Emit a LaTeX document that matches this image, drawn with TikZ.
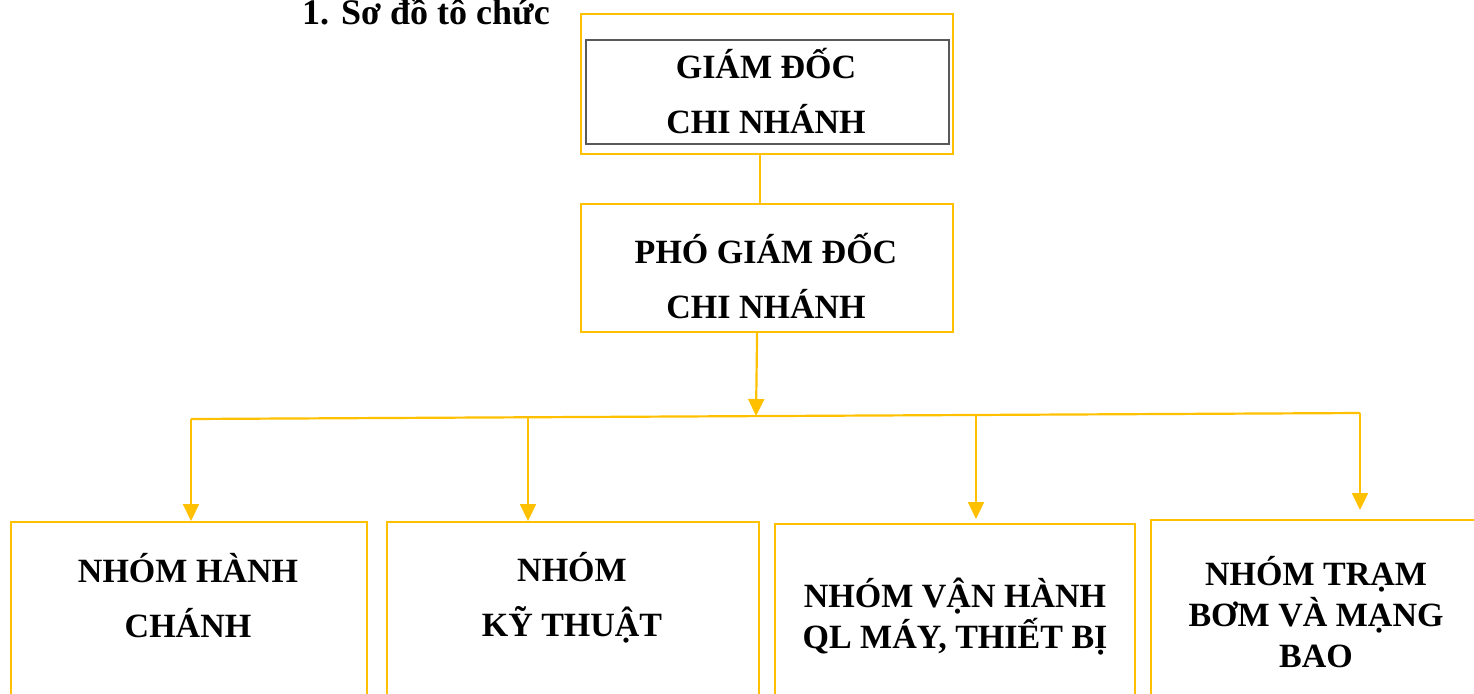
\documentclass[tikz,border=0pt]{standalone}
\usepackage{fontspec}
\setmainfont{Liberation Serif}
\usetikzlibrary{positioning, arrows.meta}
\definecolor{gold}{HTML}{FFC000}
\definecolor{frame}{HTML}{595959}

\begin{document}
\begin{tikzpicture}[x=1pt, y=-1pt,
    box/.style = {draw=gold, line width=2.2pt, rectangle, inner sep=0pt, anchor=north west},
    txt/.style = {font=\fontsize{34}{55}\selectfont\bfseries, align=center, inner sep=0pt, anchor=base},
    tight/.style = {font=\fontsize{34}{41}\selectfont\bfseries},
    link/.style = {draw=gold, line width=2.2pt},
    arr/.style = {link, -{Triangle[width=16pt, length=17pt]}}]
    \useasboundingbox (0,0) rectangle (1474,693);
    \clip (0,0) rectangle (1474,693);

    \node[font=\fontsize{36}{42}\selectfont\bfseries, inner sep=0pt, anchor=base west] (title) at (302,25) {1. Sơ đồ tô chức};

    \node[box, minimum width=372pt, minimum height=140pt] (gd) at (580,13) {};
    \node[draw=frame, line width=2pt, inner sep=0pt, anchor=north west, minimum width=363pt, minimum height=104pt] (gdin) at (585,39) {};
    \node[txt] (gdtext) at (766,133) {GIÁM ĐỐC\\CHI NHÁNH};
    \node[box, minimum width=372pt, minimum height=128pt] (pgd) at (580,203) {};
    \node[txt] (pgdtext) at (766,318) {PHÓ GIÁM ĐỐC\\CHI NHÁNH};

    \node[box, minimum width=356pt, minimum height=200pt] (hc) at (10,521) {};
    \node[box, minimum width=372pt, minimum height=200pt] (kt) at (386,521) {};
    \node[box, minimum width=360pt, minimum height=200pt] (vh) at (774,523) {};
    \node[box, minimum width=340pt, minimum height=200pt] (tb) at (1150,519) {};
    \node[txt] (hctext) at (188,637) {NHÓM HÀNH\\CHÁNH};
    \node[txt] (kttext) at (572,636) {NHÓM\\KỸ THUẬT};
    \node[txt, tight] (vhtext) at (955,648) {NHÓM VẬN HÀNH\\QL MÁY, THIẾT BỊ};
    \node[txt, tight] (tbtext) at (1316,667) {NHÓM TRẠM\\BƠM VÀ MẠNG\\BAO};

    \coordinate (bus1) at (191,419);
    \coordinate (bus2) at (528,417);
    \coordinate (busM) at (756,416);
    \coordinate (bus3) at (976,415);
    \coordinate (bus4) at (1360,413);

    \draw[link] ([xshift=-7pt]gd.south) -- ([xshift=-7pt]pgd.north);
    \draw[arr] ([xshift=-10pt]pgd.south) -- (busM);
    \draw[link] (bus1) -- (bus4);
    \draw[arr] (bus1) -- (bus1 |- hc.north);
    \draw[arr] (bus2) -- (bus2 |- kt.north);
    \draw[arr, shorten >=4pt] (bus3) -- (bus3 |- vh.north);
    \draw[arr, shorten >=9pt] (bus4) -- (bus4 |- tb.north);
\end{tikzpicture}
\end{document}
